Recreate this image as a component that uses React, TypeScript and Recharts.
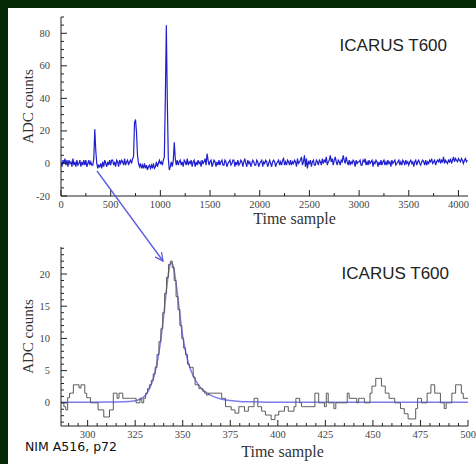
import React from 'react';
import { LineChart, Line, XAxis, YAxis, Label } from 'recharts';

// top panel: full readout, one value every 10 time samples
const TOP_START = 0;
const TOP_STEP = 10;
const topAdc = [
  1, -2, 2, 0, 3, -1, 2, -2, 2, 0,
  1, -2, 3, -1, 1, -2, 2, -1, 0, 2,
  -2, 1, -1, 2, -1, 2, -2, 0, 2, -1,
  1, -1, -1, 3, 21, 8, 0, -3, -1, -2,
  0, -3, 1, -2, 2, 0, -2, 1, -1, 2,
  -1, 2, 2, -1, 1, -2, 2, 1, -2, 2,
  0, 2, 1, -1, 3, -1, 1, 2, -1, 1,
  2, 0, 3, 4, 25, 27, 19, 5, 0, -2,
  0, -3, -1, -3, 0, -3, -1, -4, -2, -1,
  -3, -1, -3, 0, -3, -2, 1, -2, 0, 2,
  0, 1, -1, 2, 4, 40, 85, 38, 3, -4,
  -2, 1, -2, 2, 13, 3, -1, 2, -1, 1,
  2, -1, 1, -2, 2, 1, -1, 3, -1, 1,
  0, 2, -2, 1, 2, -2, 1, -1, 2, 0,
  1, -2, 2, 0, 1, 3, -1, 6, 2, -1,
  1, 2, -2, 0, 2, 1, -2, 1, -1, 2,
  -1, 1, 2, -1, -1, 2, 1, -2, 0, 1,
  2, -1, 0, 2, 2, -2, 1, -1, 2, -1,
  0, 2, 1, -2, 1, 3, 0, -2, 2, 0,
  1, -2, 0, 2, 1, -1, -1, 2, 1, -2,
  0, 1, 2, -2, 1, 0, 2, 1, -2, 0,
  2, 0, -2, 1, 2, 1, -2, 0, 1, 2,
  -1, 1, -1, 2, 3, -1, 1, -1, 2, 1,
  -1, 2, -1, 1, 0, 2, 1, -2, 3, 0,
  1, 2, 4, -1, 1, 5, -2, 3, -3, 1,
  0, 2, -2, 1, 2, -1, -1, 2, 1, -1,
  2, 1, -1, 3, 0, 2, 1, 4, -1, 1,
  2, 5, 1, 3, -1, 2, 4, 1, -1, 2,
  1, -1, 2, 1, 5, 2, 0, 4, 1, -1,
  2, -1, 1, 0, 2, 1, -2, 2, 0, 1,
  1, 2, -1, -1, 2, 1, 3, -1, 1, -1,
  2, 0, 1, 2, -2, 1, 0, 2, 1, -2,
  1, -1, 2, -1, 1, 2, -1, 1, -1, 2,
  0, 1, -2, 2, 0, 1, 2, -1, 0, 1,
  2, -1, 1, -1, 2, 1, -1, 2, 0, 1,
  -1, 1, 2, 0, 1, -2, 1, 2, -1, 1,
  2, 0, -1, 1, 2, 1, -1, 2, -1, 1,
  0, 2, 1, 3, 0, 1, 2, -1, 1, 2,
  1, 3, 0, 2, 1, 4, 0, 2, 1, 0,
  2, 1, 3, 0, 2, 4, 1, 3, 2, 1,
  3, 2, 1, 3, 2, 0, 2, 3, 1, 2,
];

// bottom panel: zoom on the first pulse, one value per time sample
const BOTTOM_START = 286;
const bottomAdc = [
  0, 0, -0.6, -1.1, 0.8, 1.5, 1.5, 2.8, 2.8, 2.8,
  2.3, 2.8, 2.8, 1.5, 0.8, 0.8, 0, 0, 0, 0,
  -1.1, -1.1, -1.1, -2.2, -2.2, -2.2, -1.1, -1.1, 1.5, 1.5,
  0.7, 1.5, 1.5, 0.7, 0.7, 0.7, 0.7, 0.7, 0.7, 0.7,
  0, 0, 0.7, 0, 0.7, 1.5, 2.2, 2.8, 3.5, 4.5,
  5.5, 7.5, 9.5, 11.5, 14, 17, 19.5, 21.5, 22, 21,
  19, 16.5, 14.5, 12, 10, 8.5, 7.5, 6, 5.5, 5.5,
  4, 2.8, 2.8, 2.2, 2.2, 1.8, 1.5, 1.2, 1.5, 1.5,
  1.5, 1.5, 1.5, 1.5, 1.5, 0.7, 0.7, -0.6, -0.6, -0.6,
  -1.1, -1.1, -1.6, -1.6, -0.6, -0.6, -0.6, -1.3, -1.3, -0.6,
  -0.6, -0.6, 0.7, 0.7, -0.6, -0.6, -1.3, -1.3, -1.9, -1.9,
  -1.9, -2.6, -2.6, -1.9, -1.9, -1.3, -1.3, -1.3, -0.6, -0.6,
  -1.3, -1.3, -1.3, -0.6, 0.7, 0.7, 0, -0.6, -0.6, -0.6,
  -0.6, -0.6, -0.6, -0.6, 1.5, 1.5, 0, 0, 0, -0.6,
  1.5, 0, 0, 0, -0.9, 0, 0, 0, 0, 0,
  0, 1.5, 0.7, 0.7, 0.7, 0.7, 0, 0.7, 0.7, 0.7,
  0, 0, 0, 1.5, 2.6, 2.6, 3.8, 3.8, 3.8, 2.6,
  2.6, 1.5, 1.5, 0.7, 0.7, 0.7, 0, 0, 0, -0.9,
  -0.9, -1.7, -1.7, -2.5, -2.5, -2.5, -2.5, -0.9, 0.7, 0.7,
  0, 0, 0, 1.5, 1.5, 2.8, 2.8, 1.5, 1.5, 1.5,
  0, 0, -0.9, 0, 0, 0, 1.5, 1.5, 2.8, 2.8,
  2.8, 1.5, 0.7, 0.7, 0.7,
];

// pulse fit drawn over the zoom
const fitTime = [
  286, 300, 315, 322, 326, 329, 331, 333, 335, 336,
  337, 338, 339, 340, 341, 342, 343, 344, 345, 346,
  347, 348, 349, 350, 351, 352, 354, 356, 358, 360,
  363, 366, 370, 375, 380, 390, 400, 450, 500,
];
const fitAdc = [
  0.1, 0.1, 0.12, 0.2, 0.4, 0.8, 1.4, 2.5, 4.2, 5.5,
  7, 8.8, 11, 13.6, 16.4, 19, 21, 21.8, 21.2, 19.6,
  17.4, 15, 12.5, 10.3, 8.7, 7.3, 5.3, 3.9, 2.9, 2.2,
  1.5, 1.0, 0.6, 0.35, 0.22, 0.14, 0.1, 0.1, 0.1,
];

const topXMajor = [0, 500, 1000, 1500, 2000, 2500, 3000, 3500, 4000];
const topYMajor = [-20, 0, 20, 40, 60, 80];
const bottomXMajor = [300, 325, 350, 375, 400, 425, 450, 475, 500];
const bottomYMajor = [0, 5, 10, 15, 20];

const range = (from: number, to: number, step: number) => {
  const out: number[] = [];
  for (let v = from; v <= to; v += step) out.push(v);
  return out;
};

const topXTicks = range(0, 4000, 250);
const topYTicks = range(-20, 90, 5);
const bottomXTicks = range(290, 500, 5);
const bottomYTicks = range(-3, 24, 1);

const topData = topAdc.map((v, i) => ({ t: TOP_START + i * TOP_STEP, v }));
const bottomData = bottomAdc.map((v, i) => ({ t: BOTTOM_START + i, v }));
const fitData = fitTime.map((t, i) => ({ t, v: fitAdc[i] }));

const SERIF = '"Liberation Serif", "Times New Roman", serif';
const FRAME = '#222';

// ticks drawn inward, labels only on the majors
const makeTick = (side: string, majors: number[], labels: boolean) => (props: any) => {
  const { x, y, payload } = props;
  const major = majors.includes(payload.value);
  const len = major ? 6 : 3;
  const txt = { fontFamily: SERIF, fontSize: 10.5, fill: '#444' };
  if (side === 'bottom') {
    return (
      <g>
        <line x1={x} x2={x} y1={y} y2={y - len} stroke={FRAME} />
        {labels && major && <text x={x} y={y + 12} textAnchor="middle" {...txt}>{payload.value}</text>}
      </g>
    );
  }
  if (side === 'top') return <line x1={x} x2={x} y1={y} y2={y + len} stroke={FRAME} />;
  if (side === 'left') {
    return (
      <g>
        <line x1={x} x2={x + len} y1={y} y2={y} stroke={FRAME} />
        {labels && major && <text x={x - 11} y={y + 3.5} textAnchor="end" {...txt}>{payload.value}</text>}
      </g>
    );
  }
  return <line x1={x} x2={x - len} y1={y} y2={y} stroke={FRAME} />;
};

const xTitle = (dx: number, dy: number) => (props: any) => {
  const vb = props.viewBox;
  return (
    <text x={vb.x + vb.width / 2 + dx} y={vb.y + dy} textAnchor="middle"
      fontFamily={SERIF} fontSize={16} fill="#333">Time sample</text>
  );
};

const yTitle = (props: any) => {
  const vb = props.viewBox;
  const cy = vb.y + vb.height / 2;
  return (
    <text x={28} y={cy} transform={`rotate(-90, 28, ${cy})`} textAnchor="middle"
      dominantBaseline="central" fontFamily={SERIF} fontSize={15} fill="#333">ADC counts</text>
  );
};

export default function App() {
  return (
    <div style={{ position: 'fixed', left: 0, top: 0, width: 476, height: 464, background: '#052805', overflow: 'hidden' }}>
      <div style={{ position: 'absolute', left: 8, top: 8, right: 0, bottom: 0, background: '#ffffff' }} />

      <div style={{ position: 'absolute', left: 0, top: 0 }}>
        <LineChart width={476} height={232} data={topData} margin={{ top: 17, right: 8, left: 0, bottom: 0 }}>
          <XAxis xAxisId="b" dataKey="t" type="number" domain={[0, 4096]} ticks={topXTicks} interval={0}
            height={36} tickSize={0} tickMargin={0} tickLine={false} stroke={FRAME}
            tick={makeTick('bottom', topXMajor, true)} allowDataOverflow>
            <Label content={xTitle(30, 28)} />
          </XAxis>
          <XAxis xAxisId="t" orientation="top" dataKey="t" type="number" domain={[0, 4096]} ticks={topXTicks}
            interval={0} height={0} tickSize={0} tickMargin={0} tickLine={false} stroke={FRAME}
            tick={makeTick('top', topXMajor, false)} allowDataOverflow />
          <YAxis yAxisId="l" type="number" domain={[-20, 90]} ticks={topYTicks} interval={0} width={61}
            tickSize={0} tickMargin={0} tickLine={false} stroke={FRAME}
            tick={makeTick('left', topYMajor, true)} allowDataOverflow>
            <Label content={yTitle} />
          </YAxis>
          <YAxis yAxisId="r" orientation="right" type="number" domain={[-20, 90]} ticks={topYTicks} interval={0}
            width={0} tickSize={0} tickMargin={0} tickLine={false} stroke={FRAME}
            tick={makeTick('right', topYMajor, false)} allowDataOverflow />
          <Line xAxisId="b" yAxisId="l" dataKey="v" type="linear" stroke="#1f1fd0" strokeWidth={1.2}
            dot={false} activeDot={false} isAnimationActive={false} />
        </LineChart>
      </div>

      <div style={{ position: 'absolute', left: 0, top: 232 }}>
        <LineChart width={476} height={232} margin={{ top: 15, right: 8, left: 0, bottom: 0 }}>
          <XAxis xAxisId="b" dataKey="t" type="number" domain={[286, 500]} ticks={bottomXTicks} interval={0}
            height={38} tickSize={0} tickMargin={0} tickLine={false} stroke={FRAME}
            tick={makeTick('bottom', bottomXMajor, true)} allowDataOverflow>
            <Label content={xTitle(18, 31)} />
          </XAxis>
          <XAxis xAxisId="t" orientation="top" dataKey="t" type="number" domain={[286, 500]} ticks={bottomXTicks}
            interval={0} height={0} tickSize={0} tickMargin={0} tickLine={false} stroke={FRAME}
            tick={makeTick('top', bottomXMajor, false)} allowDataOverflow />
          <YAxis yAxisId="l" type="number" domain={[-3.6, 24.2]} ticks={bottomYTicks} interval={0} width={61}
            tickSize={0} tickMargin={0} tickLine={false} stroke={FRAME}
            tick={makeTick('left', bottomYMajor, true)} allowDataOverflow>
            <Label content={yTitle} />
          </YAxis>
          <YAxis yAxisId="r" orientation="right" type="number" domain={[-3.6, 24.2]} ticks={bottomYTicks}
            interval={0} width={0} tickSize={0} tickMargin={0} tickLine={false} stroke={FRAME}
            tick={makeTick('right', bottomYMajor, false)} allowDataOverflow />
          <Line xAxisId="b" yAxisId="l" data={fitData} dataKey="v" type="monotone" stroke="#7c7cf0"
            strokeWidth={1.5} dot={false} activeDot={false} isAnimationActive={false} />
          <Line xAxisId="b" yAxisId="l" data={bottomData} dataKey="v" type="step" stroke="#5a5a5a"
            strokeWidth={1} dot={false} activeDot={false} isAnimationActive={false} />
        </LineChart>
      </div>

      <svg width={476} height={464} style={{ position: 'absolute', left: 0, top: 0, pointerEvents: 'none' }}>
        <defs>
          <marker id="head" markerWidth={10} markerHeight={10} refX={9} refY={5} orient="auto" markerUnits="userSpaceOnUse">
            <path d="M1,1 L9,5 L1,9" fill="none" stroke="#5b5be0" strokeWidth={1.3} />
          </marker>
        </defs>
        <line x1={97} y1={171} x2={163} y2={261} stroke="#5b5be0" strokeWidth={1.3} markerEnd="url(#head)" />
        <text x={447} y={51} textAnchor="end" fontFamily='"Liberation Sans", Arial, sans-serif' fontSize={17} fill="#222">ICARUS T600</text>
        <text x={449} y={279} textAnchor="end" fontFamily='"Liberation Sans", Arial, sans-serif' fontSize={17} fill="#222">ICARUS T600</text>
        <text x={25} y={451} fontFamily='"DejaVu Sans", sans-serif' fontSize={12.5} fill="#111">NIM A516, p72</text>
      </svg>
    </div>
  );
}
